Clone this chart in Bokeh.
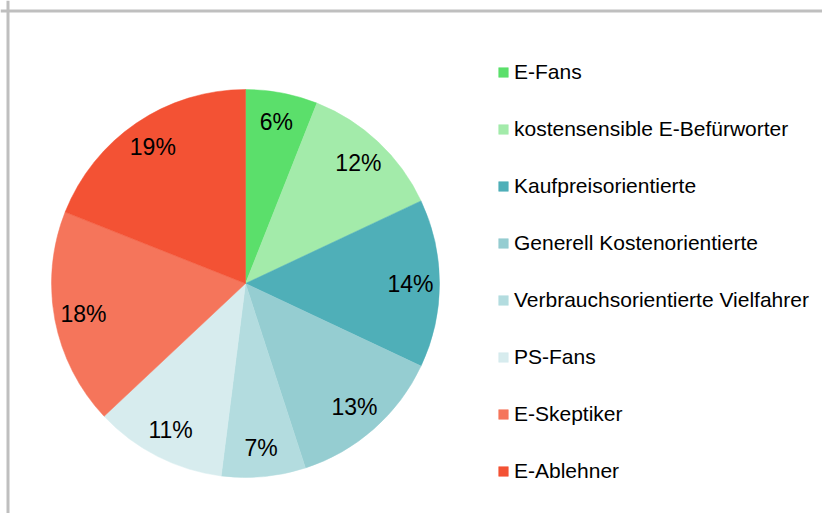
import math
from bokeh.plotting import figure
from bokeh.models import ColumnDataSource, Range1d, Span, Legend, LegendItem
from bokeh.core.properties import value
from bokeh.embed import file_html
from bokeh.resources import INLINE

# ---- data ----
categories = ["E-Fans", "kostensensible E-Befürworter", "Kaufpreisorientierte",
              "Generell Kostenorientierte", "Verbrauchsorientierte Vielfahrer",
              "PS-Fans", "E-Skeptiker", "E-Ablehner"]
shares = [6, 12, 14, 13, 7, 11, 18, 19]
colors = ["#5BDF6B", "#A3EBAA", "#4FAFB8", "#95CDD1", "#B3DCDF",
          "#D7ECEE", "#F5755B", "#F35234"]

# ---- layout (pixels) ----
W, H = 822, 513
CX, CY, R = 245, H - 283, 194
LABEL_R = 0.85 * R
FONT = "Liberation Sans"

total = float(sum(shares))
starts, ends, lx, ly, labels = [], [], [], [], []
cum = 0.0
for v in shares:
    a0 = math.pi / 2 - 2 * math.pi * cum / total
    cum += v
    a1 = math.pi / 2 - 2 * math.pi * cum / total
    starts.append(a0)
    ends.append(a1)
    mid = (a0 + a1) / 2
    lx.append(CX + LABEL_R * math.cos(mid))
    ly.append(CY + LABEL_R * math.sin(mid))
    labels.append(f"{v}%")

p = figure(width=W, height=H, output_backend="svg", toolbar_location=None,
           x_range=Range1d(0, W), y_range=Range1d(0, H),
           x_axis_location=None, y_axis_location=None, min_border=0,
           background_fill_color="white", border_fill_color="white")
p.grid.visible = False
p.outline_line_color = None

renderers = []
for i, cat in enumerate(categories):
    src = ColumnDataSource(dict(x=[CX], y=[CY], s=[starts[i]], e=[ends[i]]))
    r = p.wedge(x="x", y="y", radius=R, start_angle="s", end_angle="e",
                direction="clock", fill_color=colors[i], line_color=colors[i],
                line_width=0.5, source=src)
    renderers.append(r)

lsrc = ColumnDataSource(dict(x=lx, y=ly, t=labels))
p.text(x="x", y="y", text="t", source=lsrc, text_align="center",
       text_baseline="middle", text_font=value(FONT), text_font_size="23px",
       text_color="#000000")

legend = Legend(items=[LegendItem(label=c, renderers=[r]) for c, r in zip(categories, renderers)],
                location=(497, 29), orientation="vertical",
                glyph_width=12, glyph_height=12, label_standoff=5,
                label_height=26, spacing=31, padding=0, margin=0,
                label_text_font=FONT, label_text_font_size="21px",
                label_text_color="#000000", label_text_baseline="middle",
                border_line_color=None, background_fill_alpha=0)
p.add_layout(legend)

p.add_layout(Span(location=H - 10.5, dimension="width", line_color="#BFBFBF", line_width=3))
p.add_layout(Span(location=7.5, dimension="height", line_color="#BFBFBF", line_width=3))

open("out.html", "w").write(file_html(p, INLINE))
